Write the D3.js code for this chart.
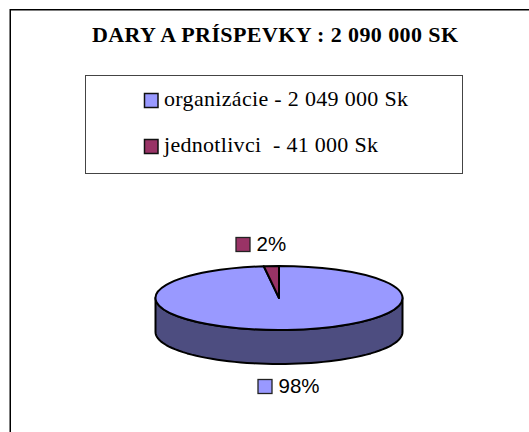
<!DOCTYPE html>
<html>
<head>
<meta charset="utf-8">
<script src="https://cdn.jsdelivr.net/npm/d3@7"></script>
<style>
html, body { margin: 0; padding: 0; background: #fff; }
svg { display: block; }
</style>
</head>
<body>
<svg class="figure" width="529" height="432"></svg>
<script>
var titleText = "DARY A PRÍSPEVKY : 2 090 000 SK";
var categories = ["organizácie", "jednotlivci"];
var legendLabels = ["organizácie - 2 049 000 Sk", "jednotlivci  - 41 000 Sk"];
var values = [2049000, 41000];
var pieLabels = ["98%", "2%"];
var colors = ["#9999ff", "#993366"];
var sideColor = "#4d4d80";

var svg = d3.select("svg.figure");
var serif = "'Liberation Serif', 'Times New Roman', serif";
var sans = "'Liberation Sans', Arial, sans-serif";

// chart frame, right and bottom edges run off the page
svg.append("rect")
.attr("x", 10.25)
.attr("y", 9.75)
.attr("width", 540)
.attr("height", 440)
.attr("fill", "#fff")
.attr("stroke", "#000")
.attr("stroke-width", 1.5);

svg.append("text")
.attr("x", 275)
.attr("y", 41.5)
.attr("text-anchor", "middle")
.attr("font-family", serif)
.attr("font-weight", "bold")
.attr("font-size", 22)
.attr("textLength", 366)
.attr("lengthAdjust", "spacing")
.text(titleText);

// legend
svg.append("rect")
.attr("x", 85.5)
.attr("y", 75.5)
.attr("width", 377)
.attr("height", 98)
.attr("fill", "#fff")
.attr("stroke", "#444");

var legendY = d3.scalePoint().domain(categories).range([100.5, 146.5]);
var legendWidths = [244, 214];

var legend = svg.selectAll("g.legend-item")
.data(categories)
.enter()
.append("g")
.attr("class", "legend-item")
.attr("transform", function(d) { return "translate(0," + legendY(d) + ")"; });

legend.append("rect")
.attr("x", 144.5)
.attr("y", -7)
.attr("width", 13.5)
.attr("height", 14)
.attr("fill", function(d, i) { return colors[i]; })
.attr("stroke", "#111")
.attr("stroke-width", 1.5);

legend.append("text")
.attr("x", 164)
.attr("y", 5)
.attr("font-family", serif)
.attr("font-size", 22)
.attr("textLength", function(d, i) { return legendWidths[i]; })
.attr("lengthAdjust", "spacing")
.style("white-space", "pre")
.text(function(d, i) { return legendLabels[i]; });

// pie, tilted by squashing y
var cx = 279, cy = 298, rx = 123.5, ry = 32, depth = 34;
var yScale = d3.scaleLinear().domain([0, rx]).range([0, ry]);

var slices = d3.pie().sort(null)(values);

// front wall, sampled along the lower half of the ellipse
var frontAngles = d3.range(Math.PI / 2, 3 * Math.PI / 2 + 0.001, Math.PI / 60);
var lower = frontAngles.map(function(a) {
  return [cx + rx * Math.sin(a), cy - yScale(rx * Math.cos(a))];
});
var wall = lower.concat(lower.slice().reverse().map(function(p) { return [p[0], p[1] + depth]; }));

svg.append("path")
.attr("d", d3.line()(wall) + "Z")
.attr("fill", sideColor)
.attr("stroke", "#000")
.attr("stroke-width", 2)
.attr("stroke-linejoin", "round");

var arc = d3.arc().innerRadius(0).outerRadius(rx);

svg.append("g")
.attr("transform", "translate(" + cx + "," + cy + ") scale(1," + (ry / rx) + ")")
.selectAll("path")
.data(slices)
.enter()
.append("path")
.attr("d", arc)
.attr("fill", function(d, i) { return colors[i]; })
.attr("stroke", "#000")
.attr("stroke-width", 2)
.attr("stroke-linejoin", "round")
.attr("vector-effect", "non-scaling-stroke");

// data labels with their keys
var labelPos = [[258, 386.5], [236, 244.5]];
var labels = svg.selectAll("g.pie-label")
.data(pieLabels)
.enter()
.append("g")
.attr("class", "pie-label")
.attr("transform", function(d, i) { return "translate(" + labelPos[i][0] + "," + labelPos[i][1] + ")"; });

labels.append("rect")
.attr("x", 0)
.attr("y", -7)
.attr("width", 14)
.attr("height", 14)
.attr("fill", function(d, i) { return colors[i]; })
.attr("stroke", "#222")
.attr("stroke-width", 1.3);

labels.append("text")
.attr("x", 20.5)
.attr("y", 6)
.attr("font-family", sans)
.attr("font-size", 20.5)
.text(function(d) { return d; });
</script>
</body>
</html>
